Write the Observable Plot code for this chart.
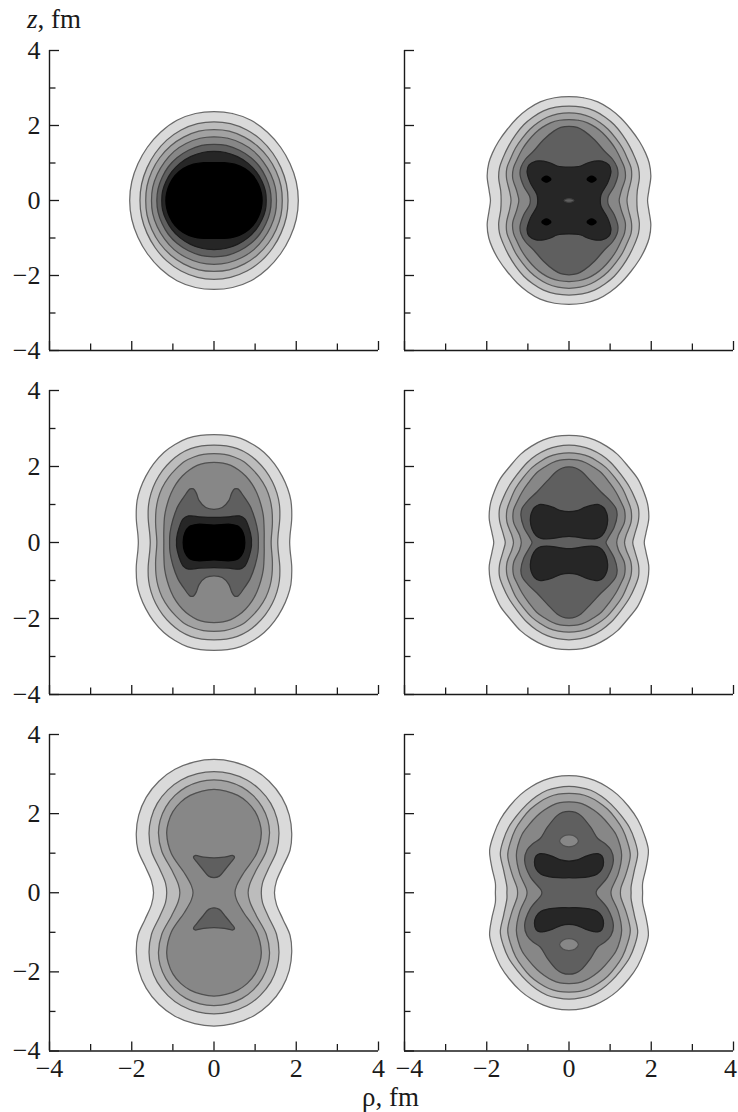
<!DOCTYPE html>
<html>
<head>
<meta charset="utf-8">
<script src="https://cdn.jsdelivr.net/npm/d3@7"></script>
<script src="https://cdn.jsdelivr.net/npm/@observablehq/plot@0.6"></script>
<style>
html,body{margin:0;padding:0;background:#fff;}
#page{position:relative;width:738px;height:1112px;overflow:hidden;font-family:"Liberation Serif",serif;color:#1a1a1a;}
#page svg{position:absolute;overflow:visible;background:transparent;}
.lab{position:absolute;font-size:27px;line-height:0.8;white-space:nowrap;}
</style>
</head>
<body>
<div id="page"></div>
<script>
// Axis ticks
const majorTicks = [-4, -2, 0, 2, 4];
const minorTicks = [-3, -1, 1, 3];
// Contour levels, lightest to darkest
const levels = [1, 2, 3, 4, 5, 6, 7];
const grays = ["#dadada", "#bcbcbc", "#a2a2a2", "#878787", "#5f5f5f", "#262626", "#000000"];
const outlines = ["#6a6a6a", "#606060", "#5a5a5a", "#505050", "#404040", "#1c1c1c", "#000000"];

// Each ring is one quarter contour as [rho, z], from the z axis round to the rho axis.
const panelA = {
  rings: [
    [1, [[0,2.37],[.45,2.32],[.9,2.14],[1.3,1.82],[1.62,1.42],[1.85,.98],[2.0,.5],[2.05,0]]],
    [2, [[0,2.10],[.4,2.05],[.8,1.88],[1.15,1.61],[1.43,1.26],[1.63,.87],[1.76,.44],[1.80,0]]],
    [3, [[0,1.89],[.37,1.85],[.74,1.69],[1.05,1.46],[1.32,1.14],[1.51,.78],[1.63,.38],[1.66,0]]],
    [4, [[0,1.70],[.34,1.66],[.68,1.52],[.97,1.31],[1.2,1.03],[1.38,.7],[1.49,.35],[1.52,0]]],
    [5, [[0,1.50],[.3,1.47],[.62,1.34],[.9,1.14],[1.11,.9],[1.26,.62],[1.36,.31],[1.39,0]]],
    [6, [[0,1.31],[.28,1.28],[.57,1.17],[.83,.99],[1.03,.76],[1.17,.5],[1.25,.25],[1.27,0]]],
    [7, [[0,1.01],[.25,1.01],[.5,.97],[.75,.85],[.95,.66],[1.08,.43],[1.15,.2],[1.17,0]]]
  ], lobes: [], spots: []
};
const panelB = {
  rings: [
    [1, [[0,2.77],[.35,2.74],[.70,2.63],[1.0,2.44],[1.26,2.20],[1.5,1.9],[1.71,1.58],[1.86,1.27],[1.95,1.0],[1.99,.65],[1.94,.25],[1.91,0]]],
    [2, [[0,2.52],[.32,2.49],[.62,2.39],[.88,2.22],[1.10,2.02],[1.3,1.75],[1.47,1.45],[1.6,1.15],[1.69,.87],[1.71,.6],[1.66,.25],[1.65,0]]],
    [3, [[0,2.34],[.27,2.31],[.53,2.22],[.75,2.08],[.95,1.9],[1.13,1.67],[1.30,1.40],[1.42,1.12],[1.51,.87],[1.52,.6],[1.44,.22],[1.41,0]]],
    [4, [[0,2.16],[.23,2.14],[.45,2.07],[.65,1.95],[.82,1.8],[1.0,1.58],[1.14,1.36],[1.26,1.1],[1.35,.87],[1.37,.6],[1.27,.25],[1.22,0]]],
    [5, [[0,1.98],[.2,1.95],[.37,1.85],[.62,1.62],[.86,1.32],[1.06,1.1],[1.17,.88],[1.19,.69],[1.10,.38],[.96,.12],[.94,0]]],
    [6, [[0,.89],[.29,.92],[.45,1.0],[.62,1.05],[.8,1.05],[.97,.95],[1.02,.78],[.94,.47],[.78,.16],[.76,0]]],
    [5, [[0,.05],[.06,.04],[.12,0]]]
  ], lobes: [],
  spots: [[7, [[.44,.57],[.55,.65],[.66,.57],[.55,.49]]]]
};
const panelC = {
  rings: [
    [1, [[0,2.84],[.33,2.82],[.65,2.74],[.95,2.58],[1.22,2.37],[1.47,2.07],[1.66,1.74],[1.79,1.42],[1.87,1.1],[1.89,.64],[1.85,.2],[1.84,0]]],
    [2, [[0,2.56],[.3,2.54],[.57,2.47],[.83,2.33],[1.05,2.14],[1.25,1.9],[1.42,1.6],[1.53,1.3],[1.59,1.0],[1.60,.64],[1.56,.2],[1.55,0]]],
    [3, [[0,2.34],[.26,2.32],[.49,2.25],[.72,2.13],[.93,1.93],[1.1,1.72],[1.26,1.44],[1.36,1.15],[1.41,.85],[1.42,.5],[1.39,0]]],
    [4, [[0,2.11],[.22,2.09],[.41,2.03],[.6,1.91],[.77,1.75],[.93,1.53],[1.05,1.28],[1.14,1.0],[1.20,.7],[1.22,.3],[1.22,0]]],
    [5, [[0,.875],[.2,.92],[.36,1.1],[.43,1.3],[.5,1.41],[.58,1.41],[.72,1.22],[.88,.95],[1.0,.6],[1.07,.25],[1.08,0]]],
    [6, [[0,.66],[.4,.68],[.62,.70],[.75,.62],[.85,.38],[.91,.1],[.91,0]]],
    [7, [[0,.46],[.4,.48],[.6,.42],[.71,.25],[.75,0]]]
  ], lobes: [], spots: []
};
const panelD = {
  rings: [
    [1, [[0,2.82],[.33,2.79],[.62,2.70],[.92,2.53],[1.18,2.32],[1.44,2.0],[1.67,1.68],[1.82,1.33],[1.91,1.02],[1.94,.63],[1.87,.24],[1.83,0]]],
    [2, [[0,2.56],[.28,2.53],[.53,2.45],[.79,2.3],[1.02,2.1],[1.26,1.79],[1.47,1.46],[1.6,1.17],[1.69,.89],[1.69,.59],[1.59,.19],[1.55,0]]],
    [3, [[0,2.36],[.26,2.33],[.49,2.26],[.7,2.13],[.90,1.97],[1.12,1.7],[1.30,1.42],[1.42,1.13],[1.51,.85],[1.51,.54],[1.39,.19],[1.35,0]]],
    [4, [[0,2.19],[.22,2.17],[.41,2.1],[.6,1.98],[.78,1.84],[.98,1.58],[1.14,1.33],[1.26,1.08],[1.35,.85],[1.35,.54],[1.20,.19],[1.16,0]]],
    [5, [[0,1.99],[.16,1.96],[.29,1.88],[.53,1.62],[.78,1.33],[1.0,1.1],[1.14,.9],[1.17,.72],[1.10,.41],[.94,.1],[.90,0]]]
  ],
  lobes: [[6, [[0,.81],[.2,.84],[.4,.93],[.6,.99],[.72,1.0],[.84,.92],[.92,.76],[.94,.58],[.9,.36],[.8,.18],[.68,.11],[.45,.1],[.2,.14],[0,.16]]]],
  spots: []
};
const panelE = {
  rings: [
    [1, [[0,3.37],[.47,3.31],[.95,3.12],[1.34,2.82],[1.65,2.41],[1.83,1.96],[1.89,1.5],[1.85,1.08],[1.68,.68],[1.52,.3],[1.47,0]]],
    [2, [[0,3.06],[.4,3.01],[.8,2.85],[1.12,2.6],[1.38,2.26],[1.53,1.88],[1.58,1.5],[1.52,1.05],[1.32,.6],[1.18,.25],[1.15,0]]],
    [3, [[0,2.85],[.34,2.81],[.68,2.67],[.95,2.46],[1.17,2.17],[1.31,1.83],[1.35,1.5],[1.27,1.05],[1.03,.58],[.87,.22],[.83,0]]],
    [4, [[0,2.61],[.29,2.57],[.58,2.46],[.81,2.29],[1.0,2.05],[1.11,1.78],[1.15,1.5],[1.04,1.0],[.72,.5],[.55,.18],[.51,0]]]
  ],
  lobes: [[5, [[0,.38],[.13,.42],[.28,.6],[.42,.78],[.5,.9],[.46,.94],[.25,.9],[0,.88]]]],
  spots: []
};
const panelF = {
  rings: [
    [1, [[0,2.96],[.33,2.93],[.62,2.84],[.92,2.68],[1.18,2.48],[1.45,2.18],[1.67,1.85],[1.83,1.47],[1.93,1.08],[1.88,.66],[1.79,.24],[1.79,0]]],
    [2, [[0,2.69],[.28,2.66],[.53,2.59],[.79,2.44],[1.02,2.24],[1.26,1.96],[1.47,1.65],[1.6,1.32],[1.67,.99],[1.59,.57],[1.51,.15],[1.51,0]]],
    [3, [[0,2.51],[.26,2.49],[.49,2.42],[.72,2.29],[.94,2.11],[1.13,1.88],[1.30,1.61],[1.42,1.29],[1.49,.95],[1.39,.49],[1.26,.11],[1.25,0]]],
    [4, [[0,2.30],[.22,2.28],[.41,2.21],[.6,2.09],[.78,1.94],[.98,1.71],[1.14,1.48],[1.24,1.2],[1.28,.95],[1.20,.49],[1.04,.11],[1.02,0]]],
    [5, [[0,2.06],[.16,2.03],[.29,1.95],[.53,1.65],[.70,1.37],[.88,1.24],[1.02,1.08],[1.08,.83],[.94,.40],[.68,.07],[.66,0]]]
  ],
  lobes: [
    [6, [[0,.80],[.2,.83],[.4,.92],[.6,.98],[.7,.99],[.8,.93],[.84,.78],[.8,.6],[.68,.47],[.5,.41],[.25,.38],[0,.38]]],
    [4, [[0,1.46],[.15,1.42],[.23,1.31],[.15,1.2],[0,1.16]]]
  ],
  spots: []
};

// The contours are symmetric in rho and z, so the full outlines come from reflecting what was read.
function ringOutline(q) {
  const n = q.length;
  const a = q.map(([r, z]) => [r, z]);
  const b = q.slice(0, n - 1).reverse().map(([r, z]) => [r, -z]);
  const c = q.slice(1).map(([r, z]) => [-r, -z]);
  const d = q.slice(1, n - 1).reverse().map(([r, z]) => [-r, z]);
  return [...a, ...b, ...c, ...d];
}
function lobeOutline(h, s) {
  const a = h.map(([r, z]) => [r, s * z]);
  const b = h.slice(1, h.length - 1).reverse().map(([r, z]) => [-r, s * z]);
  return [...a, ...b];
}
function contoursFor(panel) {
  const out = [];
  const add = (level, pts) => out.push(pts.map(([r, z]) => ({rho: r, z, level})));
  panel.rings.forEach(([lv, q]) => add(lv, ringOutline(q)));
  panel.lobes.forEach(([lv, h]) => { add(lv, lobeOutline(h, 1)); add(lv, lobeOutline(h, -1)); });
  panel.spots.forEach(([lv, p]) => {
    [[1,1],[-1,1],[1,-1],[-1,-1]].forEach(([sr, sz]) => add(lv, p.map(([r, z]) => [sr * r, sz * z])));
  });
  return out;
}

const fmt = d => d < 0 ? "\u2212" + (-d) : String(d);
const page = document.getElementById("page");
const INK = "#1a1a1a";
const FONT = "Liberation Serif, serif";

function draw(panel, o) {
  const ml = 49, mr = 6, mt = 14, mb = 36;
  const w = 329, h = o.bottom - o.top;
  const tickOnly = {stroke: INK, strokeWidth: 1.3, fill: "none", label: null};
  const textOnly = {stroke: "none", fill: INK, fontSize: 26, fontFamily: FONT, label: null, tickFormat: fmt};
  const marks = contoursFor(panel).map(c => Plot.line(c, {
    x: "rho", y: "z", fill: "level",
    stroke: outlines[c[0].level - 1], strokeWidth: 1.25, curve: "catmull-rom-closed"
  }));
  marks.push(
    Plot.ruleX([-4], {stroke: INK, strokeWidth: 1.4}),
    Plot.ruleY([-4], {stroke: INK, strokeWidth: 1.4}),
    Plot.axisY(majorTicks, {anchor: "left", tickSize: -10, ...tickOnly}),
    Plot.axisY(minorTicks, {anchor: "left", tickSize: -6.5, ...tickOnly}),
    Plot.axisX(majorTicks, {anchor: "bottom", tickSize: -9, ...tickOnly}),
    Plot.axisX(minorTicks, {anchor: "bottom", tickSize: -6.5, ...tickOnly})
  );
  if (o.yLabels) marks.push(Plot.axisY(majorTicks, {anchor: "left", tickSize: 0, tickPadding: 9, ...textOnly}));
  if (o.xLabels) {
    const moved = (o.xShifts || []).map(s => s[0]);
    marks.push(Plot.axisX(majorTicks.filter(t => !moved.includes(t)), {anchor: "bottom", tickSize: 0, tickPadding: 8, ...textOnly}));
    (o.xShifts || []).forEach(([t, dx]) => marks.push(Plot.axisX([t], {anchor: "bottom", tickSize: 0, tickPadding: 8, dx, ...textOnly})));
  }
  const svg = Plot.plot({
    width: w + ml + mr,
    height: h + mt + mb,
    marginLeft: ml, marginRight: mr, marginTop: mt, marginBottom: mb,
    style: {background: "transparent", overflow: "visible", fontFamily: FONT},
    x: {domain: [-4, 4], axis: null},
    y: {domain: [-4, 4], axis: null},
    color: {type: "ordinal", domain: levels, range: grays},
    marks
  });
  svg.style.left = (o.left - ml) + "px";
  svg.style.top = (o.top - mt) + "px";
  page.appendChild(svg);
}

const leftX = 49, rightX = 403.5;
draw(panelA, {left: leftX, top: 49.5, bottom: 349.5, yLabels: true});
draw(panelB, {left: rightX, top: 49.5, bottom: 349.5});
draw(panelC, {left: leftX, top: 389.5, bottom: 693.5, yLabels: true});
draw(panelD, {left: rightX, top: 389.5, bottom: 693.5});
draw(panelE, {left: leftX, top: 734, bottom: 1050.5, yLabels: true, xLabels: true});
draw(panelF, {left: rightX, top: 734, bottom: 1050.5, xLabels: true, xShifts: [[-4, 5], [4, -3]]});

const zLab = document.createElement("div");
zLab.className = "lab";
zLab.style.left = "27px"; zLab.style.top = "9px";
zLab.innerHTML = "<i>z</i>, fm";
page.appendChild(zLab);
const rhoLab = document.createElement("div");
rhoLab.className = "lab";
rhoLab.style.left = "362px"; rhoLab.style.top = "1087px";
rhoLab.textContent = "\u03C1, fm";
page.appendChild(rhoLab);
</script>
</body>
</html>
